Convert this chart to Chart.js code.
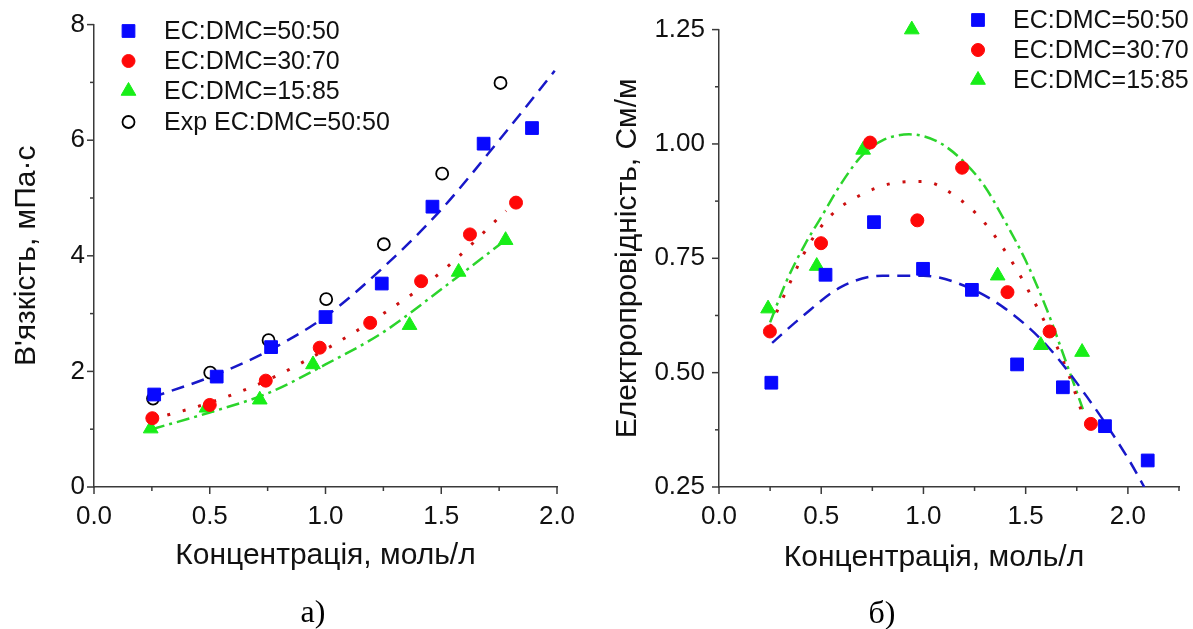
<!DOCTYPE html>
<html><head><meta charset="utf-8">
<script src="https://cdn.jsdelivr.net/npm/chart.js@4.4.1/dist/chart.umd.min.js"></script>
<style>
html,body{margin:0;padding:0;background:#fff;width:1193px;height:629px;overflow:hidden;}
#c1{position:absolute;left:0;top:0;}
#c2{position:absolute;left:596px;top:0;}
.lbl{position:absolute;font-family:"Liberation Serif","Times New Roman",serif;font-size:32px;color:#000;transform:translate(-50%,-50%);white-space:nowrap;line-height:1;}
.xt{position:absolute;font-family:"Liberation Sans",Arial,sans-serif;font-size:30px;color:#111;transform:translate(-50%,-50%);white-space:nowrap;line-height:1;}
</style></head><body>
<canvas id="c1" width="596" height="629"></canvas>
<canvas id="c2" width="597" height="629"></canvas>
<div class="xt" id="xt2" style="left:934px;top:556px">Концентрація, моль/л</div>
<div class="lbl" style="left:313px;top:611px">а)</div>
<div class="lbl" style="left:882px;top:612px">б)</div>
<script>
// ---------- Data: viscosity (panel a) ----------
const visc5050X = [0.26, 0.53, 0.765, 1.0, 1.243, 1.462, 1.683, 1.892];
const visc5050Y = [1.60, 1.91, 2.42, 2.94, 3.52, 4.85, 5.94, 6.21];
const visc3070X = [0.252, 0.50, 0.742, 0.975, 1.193, 1.413, 1.624, 1.823];
const visc3070Y = [1.19, 1.42, 1.84, 2.41, 2.84, 3.56, 4.37, 4.92];
const visc1585X = [0.245, 0.486, 0.716, 0.946, 1.363, 1.575, 1.778];
const visc1585Y = [1.01, 1.37, 1.51, 2.12, 2.80, 3.72, 4.27];
const viscExpX  = [0.255, 0.502, 0.754, 1.003, 1.252, 1.504, 1.756];
const viscExpY  = [1.53, 1.98, 2.54, 3.25, 4.20, 5.42, 6.99];
// fitted curves
const fitV5050X = [0.25, 0.5, 0.75, 1.0, 1.25, 1.5, 1.75, 1.99];
const fitV5050Y = [1.55, 1.90, 2.35, 2.95, 3.80, 4.80, 6.00, 7.20];
const fitV3070X = [0.25, 0.5, 0.75, 1.0, 1.25, 1.5, 1.78];
const fitV3070Y = [1.17, 1.46, 1.85, 2.38, 3.00, 3.72, 4.78];
const fitV1585X = [0.25, 0.5, 0.75, 1.0, 1.25, 1.5, 1.78];
const fitV1585Y = [1.00, 1.29, 1.62, 2.12, 2.68, 3.42, 4.28];

// ---------- Data: conductivity (panel b) ----------
const cond5050X = [0.256, 0.521, 0.758, 0.998, 1.237, 1.458, 1.682, 1.888, 2.097];
const cond5050Y = [0.478, 0.714, 0.829, 0.727, 0.681, 0.518, 0.468, 0.383, 0.308];
const cond3070X = [0.249, 0.499, 0.739, 0.970, 1.189, 1.411, 1.617, 1.819];
const cond3070Y = [0.590, 0.783, 1.003, 0.833, 0.948, 0.676, 0.590, 0.388];
const cond1585X = [0.240, 0.478, 0.705, 0.943, 1.363, 1.574, 1.776];
const cond1585Y = [0.640, 0.733, 0.987, 1.250, 0.712, 0.560, 0.545];
const fitC5050X = [0.26, 0.4, 0.6, 0.8, 1.0, 1.2, 1.4, 1.6, 1.8, 2.0, 2.08];
const fitC5050Y = [0.565, 0.620, 0.688, 0.712, 0.712, 0.690, 0.640, 0.561, 0.447, 0.313, 0.25];
const fitC3070X = [0.25, 0.33, 0.44, 0.55, 0.70, 0.85, 1.0, 1.15, 1.30, 1.45, 1.57, 1.65, 1.71, 1.77];
const fitC3070Y = [0.60, 0.68, 0.78, 0.845, 0.89, 0.914, 0.918, 0.888, 0.827, 0.73, 0.631, 0.56, 0.496, 0.42];
const fitC1585X = [0.25, 0.33, 0.42, 0.50, 0.60, 0.70, 0.80, 0.93, 1.07, 1.20, 1.30, 1.40, 1.50, 1.60, 1.70, 1.78];
const fitC1585Y = [0.61, 0.70, 0.78, 0.84, 0.915, 0.975, 1.008, 1.021, 1.005, 0.960, 0.907, 0.83, 0.745, 0.642, 0.52, 0.42];

// labels
const legendV = ['EC:DMC=50:50', 'EC:DMC=30:70', 'EC:DMC=15:85', 'Exp EC:DMC=50:50'];
const legendC = ['EC:DMC=50:50', 'EC:DMC=30:70', 'EC:DMC=15:85'];
const xTitle = 'Концентрація, моль/л';
const yTitleV = 'В\'язкість, мПа·с';
const yTitleC = 'Електропровідність, См/м';

const pts = (xs, ys) => xs.map((x, i) => ({x: x, y: ys[i]}));

const BLUE = '#0808ff', BLUE_L = '#1818c8';
const RED = '#ff0808', RED_L = '#cc1010';
const GREEN = '#18ee18', GREEN_L = '#2cd42c';
const AXIS = '#3a3a3a';
const FONT = '"Liberation Sans", Arial, sans-serif';

function scatterDs(data, style, color, radius, fill) {
  return {type: 'scatter', data: data, pointStyle: style, pointRadius: radius, pointHoverRadius: radius,
    pointBackgroundColor: fill === false ? 'rgba(0,0,0,0)' : color, pointBorderColor: color,
    pointBorderWidth: fill === false ? 1.8 : 1, showLine: false, order: 0, clip: false};
}
function lineDs(data, color, dash, width) {
  return {type: 'line', data: data, borderColor: color, borderWidth: width, borderDash: dash,
    pointRadius: 0, fill: false, cubicInterpolationMode: 'monotone', order: 1, borderCapStyle: 'butt'};
}

function drawMarker(ctx, style, x, y, r, color, fill) {
  ctx.save();
  ctx.fillStyle = color; ctx.strokeStyle = color; ctx.lineWidth = fill === false ? 1.8 : 1;
  ctx.beginPath();
  if (style === 'rect') {
    const s = Math.SQRT1_2 * r; ctx.rect(x - s, y - s, 2 * s, 2 * s);
  } else if (style === 'triangle') {
    let a = 0;
    ctx.moveTo(x + Math.sin(a) * r, y - Math.cos(a) * r);
    a += 2 * Math.PI / 3; ctx.lineTo(x + Math.sin(a) * r, y - Math.cos(a) * r);
    a += 2 * Math.PI / 3; ctx.lineTo(x + Math.sin(a) * r, y - Math.cos(a) * r);
    ctx.closePath();
  } else {
    ctx.arc(x, y, r, 0, Math.PI * 2);
  }
  if (fill !== false) ctx.fill();
  ctx.stroke();
  ctx.restore();
}

const tickPlugin = {
  id: 'outTicks',
  afterDraw(chart) {
    const ctx = chart.ctx;
    ctx.save();
    ctx.strokeStyle = AXIS; ctx.lineWidth = 1.5;
    ['x', 'y'].forEach(id => {
      const s = chart.scales[id];
      s.ticks.forEach(t => {
        const major = t.label !== '' && t.label !== undefined;
        const len = major ? 7 : 4;
        const p = s.getPixelForValue(t.value);
        ctx.beginPath();
        if (id === 'x') { ctx.moveTo(p, s.top); ctx.lineTo(p, s.top + len); }
        else { ctx.moveTo(s.right, p); ctx.lineTo(s.right - len, p); }
        ctx.stroke();
      });
    });
    ctx.restore();
  }
};

const legendPlugin = {
  id: 'customLegend',
  afterDraw(chart, args, opts) {
    const ctx = chart.ctx;
    ctx.save();
    ctx.font = '25px ' + FONT;
    ctx.fillStyle = '#111';
    ctx.textBaseline = 'middle';
    ctx.textAlign = 'left';
    opts.items.forEach((it, i) => {
      const y = opts.rows[i];
      drawMarker(ctx, it.style, opts.symX, y, it.r, it.color, it.fill);
      ctx.fillText(it.text, opts.textX, y + 1);
    });
    ctx.restore();
  }
};

function axisOpts(min, max, step, fmt, isMajor, afterFit, pad, title) {
  return {
    type: 'linear', min: min, max: max,
    afterFit: afterFit,
    grid: {display: true, drawOnChartArea: false, drawTicks: false},
    border: {display: true, color: AXIS, width: 1.5},
    ticks: {stepSize: step, autoSkip: false, maxRotation: 0, padding: pad, color: '#111',
      font: {family: FONT, size: 26},
      callback: v => isMajor(v) ? fmt(v) : ''},
    title: title
  };
}

const near = (v, m) => Math.abs(v / m - Math.round(v / m)) < 1e-6;

// ---------- Chart a ----------
new Chart(document.getElementById('c1'), {
  type: 'scatter',
  data: {datasets: [
    scatterDs(pts(visc5050X, visc5050Y), 'rect', BLUE, 9),
    scatterDs(pts(visc3070X, visc3070Y), 'circle', RED, 6.5),
    scatterDs(pts(visc1585X, visc1585Y), 'triangle', GREEN, 8.5),
    scatterDs(pts(viscExpX, viscExpY), 'circle', '#000', 6, false),
    lineDs(pts(fitV5050X, fitV5050Y), BLUE_L, [13, 8], 2.5),
    lineDs(pts(fitV3070X, fitV3070Y), RED_L, [3, 13], 3),
    lineDs(pts(fitV1585X, fitV1585Y), GREEN_L, [13, 5, 3, 5], 2.5)
  ]},
  options: {
    responsive: false, animation: false, events: [],
    layout: {padding: {left: 0, right: 39, top: 23, bottom: 0}},
    plugins: {
      legend: {display: false}, tooltip: {enabled: false},
      customLegend: {symX: 128.5, textX: 164, rows: [31, 61, 91, 122], items: [
        {style: 'rect', r: 9, color: BLUE, text: legendV[0]},
        {style: 'circle', r: 6.5, color: RED, text: legendV[1]},
        {style: 'triangle', r: 8.5, color: GREEN, text: legendV[2]},
        {style: 'circle', r: 6, color: '#000', fill: false, text: legendV[3]}
      ]}
    },
    scales: {
      x: axisOpts(0, 2.0, 0.25, v => v.toFixed(1), v => near(v, 0.5), s => { s.height = 142; }, 14,
        {display: true, text: xTitle, color: '#111', font: {family: FONT, size: 30}, padding: {top: 0, bottom: 55}}),
      y: axisOpts(0, 8, 1, v => v.toFixed(0), v => near(v, 2), s => { s.width = 94; }, 9,
        {display: true, text: yTitleV, color: '#111', font: {family: FONT, size: 30}, padding: {top: 9, bottom: 0}})
    }
  },
  plugins: [tickPlugin, legendPlugin]
});

// ---------- Chart b ----------
new Chart(document.getElementById('c2'), {
  type: 'scatter',
  data: {datasets: [
    scatterDs(pts(cond5050X, cond5050Y), 'rect', BLUE, 9),
    scatterDs(pts(cond3070X, cond3070Y), 'circle', RED, 6.5),
    scatterDs(pts(cond1585X, cond1585Y), 'triangle', GREEN, 8.5),
    lineDs(pts(fitC5050X, fitC5050Y), BLUE_L, [13, 8], 2.5),
    lineDs(pts(fitC3070X, fitC3070Y), RED_L, [3, 13], 3),
    lineDs(pts(fitC1585X, fitC1585Y), GREEN_L, [13, 5, 3, 5], 2.5)
  ]},
  options: {
    responsive: false, animation: false, events: [],
    layout: {padding: {left: 0, right: 12, top: 23, bottom: 0}},
    plugins: {
      legend: {display: false}, tooltip: {enabled: false},
      customLegend: {symX: 382, textX: 417, rows: [20, 50, 80], items: [
        {style: 'rect', r: 9, color: BLUE, text: legendC[0]},
        {style: 'circle', r: 6.5, color: RED, text: legendC[1]},
        {style: 'triangle', r: 8.5, color: GREEN, text: legendC[2]}
      ]}
    },
    scales: {
      x: axisOpts(0, 2.25, 0.25, v => v.toFixed(1), v => near(v, 0.5), s => { s.height = 142; }, 14,
        {display: false}),
      y: axisOpts(0.25, 1.25, 0.125, v => v.toFixed(2), v => near(v, 0.25), s => { s.width = 123; }, 14,
        {display: true, text: yTitleC, color: '#111', font: {family: FONT, size: 30}, padding: {top: 14, bottom: 0}})
    }
  },
  plugins: [tickPlugin, legendPlugin]
});
</script>
</body></html>
